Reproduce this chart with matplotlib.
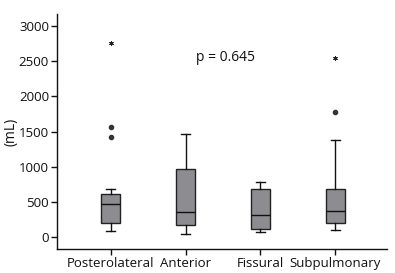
import matplotlib
matplotlib.use("Agg")
import matplotlib.pyplot as plt

categories = ["Posterolateral", "Anterior", "Fissural", "Subpulmonary"]
whislo = [81, 34, 67, 96]
q1 = [191, 162, 110, 191]
med = [462, 352, 305, 367]
q3 = [605, 961, 676, 676]
whishi = [676, 1461, 776, 1375]
outlier_cat = [1, 1, 4]
outlier_val = [1426, 1569, 1783]
extreme_cat = [1, 4]
extreme_val = [2759, 2545]
yticks = [0, 500, 1000, 1500, 2000, 2500, 3000]
p_text = "p = 0.645"

plt.rcParams['font.family'] = ['Open Sans', 'DejaVu Sans']

fig = plt.figure(figsize=(3.95, 2.73), dpi=100)
ax = fig.add_axes([0.145, 0.088, 0.834, 0.861])

stats = []
for i in range(len(categories)):
    stats.append(dict(whislo=whislo[i], q1=q1[i], med=med[i], q3=q3[i],
                      whishi=whishi[i], fliers=[], label=categories[i]))
positions = list(range(1, len(categories) + 1))
ax.bxp(stats, positions=positions, widths=0.25, capwidths=0.12,
       showfliers=False, patch_artist=True,
       boxprops=dict(facecolor="#8d8d91", edgecolor="#222222", linewidth=1.0),
       medianprops=dict(color="#111111", linewidth=1.0),
       whiskerprops=dict(color="#111111", linewidth=1.0),
       capprops=dict(color="#111111", linewidth=1.0))

ax.plot(outlier_cat, outlier_val, linestyle="none", marker="o", markersize=3,
        markerfacecolor="#333333", markeredgecolor="#333333")
ax.plot(extreme_cat, extreme_val, linestyle="none", marker=(6, 2, 0), markersize=3.2,
        color="#222222", markeredgewidth=0.7)

ax.text(2.54, 2549, p_text, ha="center", va="center", fontsize=10, color="#111111")

ax.set_xlim(0.288, 4.685)
ax.set_ylim(-175, 3177)
ax.set_yticks(yticks)
ax.set_yticklabels([str(t) for t in yticks])
ax.set_xticks(positions)
ax.set_xticklabels(categories)
ax.tick_params(axis="both", direction="out", length=4, width=1, labelsize=9.5,
               colors="#111111", pad=2)
ax.set_ylabel("(mL)", fontsize=10, color="#111111", labelpad=0)
for s in ["top", "right"]:
    ax.spines[s].set_visible(False)
for s in ["left", "bottom"]:
    ax.spines[s].set_linewidth(1.0)
    ax.spines[s].set_color("#111111")

fig.savefig("out.png", dpi=100)
